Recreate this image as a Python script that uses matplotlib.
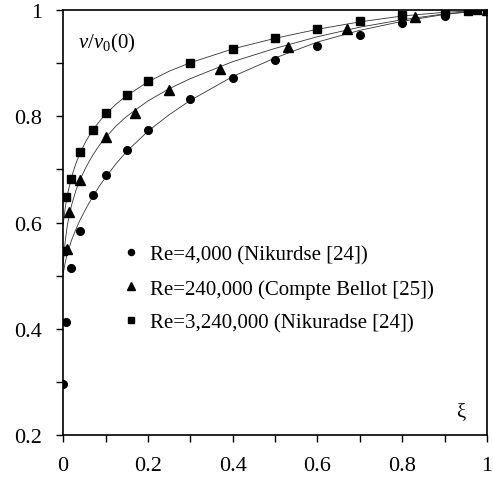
import matplotlib
matplotlib.use("Agg")
import matplotlib.pyplot as plt
from matplotlib.ticker import MultipleLocator, FormatStrFormatter

plt.rcParams["font.family"] = ["Liberation Serif", "DejaVu Serif"]
plt.rcParams["mathtext.fontset"] = "custom"
plt.rcParams["mathtext.rm"] = "Liberation Serif"
plt.rcParams["mathtext.it"] = "Liberation Serif:italic"

# measured profiles
circ_xi = [0, 0.007, 0.018, 0.04, 0.07, 0.1, 0.15, 0.2, 0.3, 0.4, 0.5, 0.6, 0.7, 0.8, 0.9, 0.955]
circ_v = [0.297, 0.412, 0.514, 0.584, 0.652, 0.690, 0.737, 0.774, 0.832, 0.873,
          0.906, 0.933, 0.954, 0.975, 0.989, 0.998]

tri_xi = [0.009, 0.015, 0.04, 0.1, 0.17, 0.25, 0.37, 0.53, 0.67, 0.83, 1.0]
tri_v = [0.550, 0.620, 0.680, 0.761, 0.807, 0.850, 0.889, 0.931, 0.965, 0.988, 1.0]

sq_xi = [0, 0.008, 0.018, 0.04, 0.07, 0.1, 0.15, 0.2, 0.3, 0.4, 0.5, 0.6, 0.7, 0.8,
         0.9, 0.955, 0.977, 1.0]
sq_v = [0.547, 0.649, 0.683, 0.733, 0.774, 0.806, 0.840, 0.866, 0.901, 0.927,
        0.948, 0.964, 0.979, 0.991, 0.997, 0.999, 1.0, 1.0]

# model curves
fit_xi = [0, 0.005, 0.01, 0.02, 0.03, 0.04, 0.055, 0.07, 0.085, 0.1, 0.125, 0.15,
          0.2, 0.25, 0.3, 0.4, 0.5, 0.6, 0.7, 0.8, 0.9, 1.0]
fit_circ = [0.503, 0.525, 0.542, 0.567, 0.587, 0.605, 0.628, 0.649, 0.668, 0.685, 0.711,
            0.734, 0.772, 0.803, 0.830, 0.875, 0.910, 0.940, 0.962, 0.979, 0.992, 1.0]
fit_tri = [0.520, 0.565, 0.595, 0.633, 0.660, 0.681, 0.706, 0.727, 0.745, 0.760, 0.782,
           0.800, 0.829, 0.852, 0.871, 0.903, 0.928, 0.950, 0.968, 0.982, 0.993, 1.0]
fit_sq = [0.595, 0.628, 0.652, 0.686, 0.711, 0.731, 0.755, 0.774, 0.790, 0.804, 0.823,
          0.839, 0.865, 0.885, 0.901, 0.927, 0.947, 0.964, 0.978, 0.989, 0.996, 1.0]

labels = ["Re=4,000 (Nikurdse [24])",
          "Re=240,000 (Compte Bellot [25])",
          "Re=3,240,000 (Nikuradse [24])"]

fig = plt.figure(figsize=(4.93, 4.85), dpi=100)
ax = fig.add_axes([0.128, 0.101, 0.860, 0.876])

for fit in (fit_circ, fit_tri, fit_sq):
    ax.plot(fit_xi, fit, color="#333333", lw=0.6, zorder=2)

h1, = ax.plot(circ_xi, circ_v, "o", color="black", ms=5.5, ls="none", zorder=3)
h2, = ax.plot(tri_xi, tri_v, "^", color="black", ms=7, ls="none", zorder=3)
h3, = ax.plot(sq_xi, sq_v, "s", color="black", ms=5.5, ls="none", zorder=3)

ax.set_xlim(0, 1)
ax.set_ylim(0.2, 1)
ax.xaxis.set_major_locator(MultipleLocator(0.2))
ax.xaxis.set_minor_locator(MultipleLocator(0.1))
ax.yaxis.set_major_locator(MultipleLocator(0.2))
ax.yaxis.set_minor_locator(MultipleLocator(0.1))
ax.xaxis.set_major_formatter(FormatStrFormatter("%g"))
ax.yaxis.set_major_formatter(FormatStrFormatter("%g"))
ax.tick_params(which="both", direction="out", length=5, width=1, top=False, right=False)
ax.tick_params(which="major", labelsize=16, pad=10)
for s in ax.spines.values():
    s.set_linewidth(1.2)

ax.text(0.036, 0.925, r"$v/v_0(0)$", transform=ax.transAxes, fontsize=15,
        ha="left", va="center")
ax.text(0.939, 0.055, "ξ", transform=ax.transAxes, fontsize=15,
        ha="center", va="center")

ax.legend([h1, h2, h3], labels, loc="center left", bbox_to_anchor=(0.11, 0.344),
          frameon=False, fontsize=15, handlelength=1.0, handletextpad=0.45,
          labelspacing=0.69, borderpad=0, markerscale=0.8)

fig.savefig("out.png", dpi=100)
